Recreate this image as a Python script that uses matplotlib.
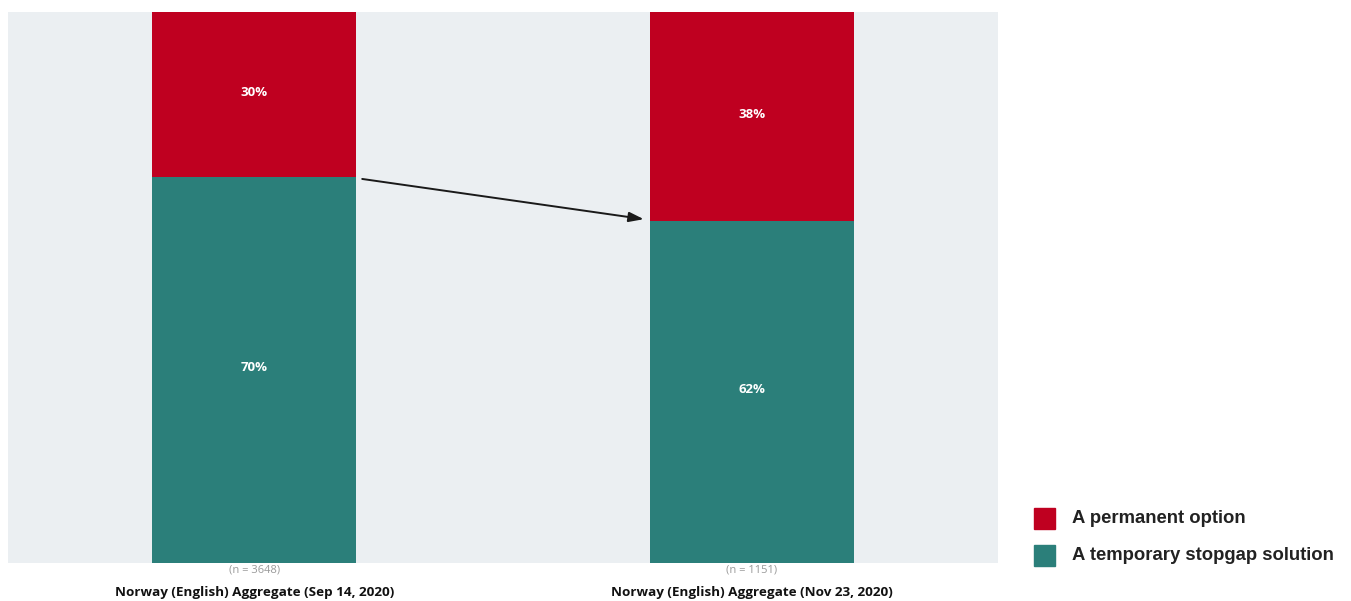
import numpy as np
import matplotlib.pyplot as plt
from matplotlib.patches import Rectangle

# survey waves and answer shares (%)
groups = ['Norway (English) Aggregate (Sep 14, 2020)',
          'Norway (English) Aggregate (Nov 23, 2020)']
sample_sizes = [3648, 1151]
temporary = [70, 62]
permanent = [30, 38]
series_names = ['A permanent option', 'A temporary stopgap solution']

red = '#bf0020'
teal = '#2b7f7a'

fig = plt.figure(figsize=(13.51, 6.01), dpi=100)
ax = fig.add_axes([8 / 1351, 38 / 601, 990 / 1351, 551 / 601])
ax.set_facecolor('#ebeff2')

x = np.arange(len(groups))
w = 0.41
ax.bar(x, temporary, w, color=teal, linewidth=0)
ax.bar(x, permanent, w, bottom=temporary, color=red, linewidth=0)

for xi, t, p in zip(x, temporary, permanent):
    ax.text(xi, t / 2 + 0.4, f'{t}%', ha='center', va='center', color='white',
            fontsize=9.5, fontweight='bold', family='Open Sans')
    ax.text(xi, t + p / 2 + 0.4, f'{p}%', ha='center', va='center', color='white',
            fontsize=9.5, fontweight='bold', family='Open Sans')

# arrow showing the shift between waves
ax.annotate('', xy=(x[1] - w / 2 - 0.012, temporary[1] + 0.4),
            xytext=(x[0] + w / 2 + 0.012, temporary[0] - 0.3),
            arrowprops=dict(arrowstyle='-|>,head_length=0.9,head_width=0.3',
                            color='#1a1a1a', lw=1.4, shrinkA=0, shrinkB=0))

ax.set_xlim(-0.495, 1.495)
ax.set_ylim(0, 100)
ax.set_xticks([])
ax.set_yticks([])
for s in ax.spines.values():
    s.set_visible(False)

# category labels under the bars
for xi, g, n in zip(x, groups, sample_sizes):
    ax.text(xi, -1.3, f'(n = {n})', ha='center', va='center', color='#9a9a9a',
            fontsize=8, family='Open Sans', clip_on=False)
    ax.text(xi, -5.3, g, ha='center', va='center', color='#111111',
            fontsize=9.7, fontweight='bold', family='Open Sans', clip_on=False)

# legend
for i, (name, col) in enumerate(zip(series_names, [red, teal])):
    y = 1 - (518.5 + 37 * i) / 601
    fig.patches.append(Rectangle((1034 / 1351, y - 10.5 / 601), 21 / 1351, 21 / 601,
                                 transform=fig.transFigure, color=col))
    fig.text(1072 / 1351, y, name, ha='left', va='center', fontsize=13.3,
             fontweight='bold', color='#222222', family='Liberation Sans')

fig.savefig('out.png', dpi=100)
